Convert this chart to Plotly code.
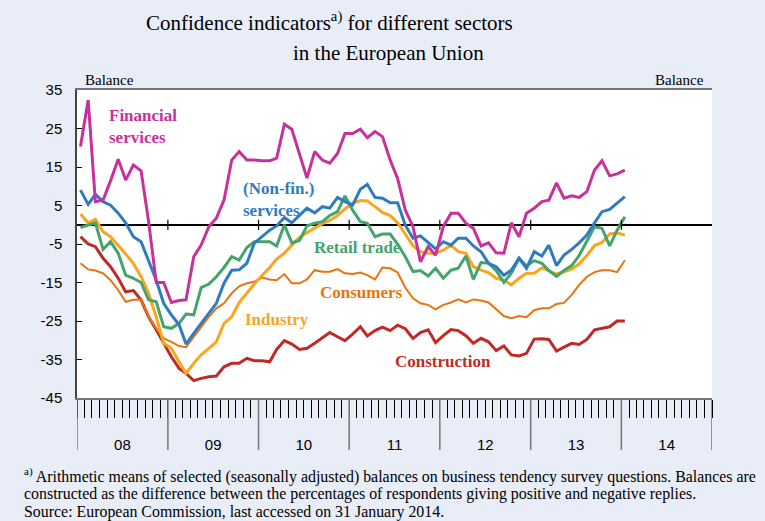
import pandas as pd
import plotly.graph_objects as go

# monthly observations, Jan 2008 - Jan 2014 (balances)
months = pd.date_range("2008-01-01", periods=73, freq="MS") + pd.Timedelta(days=14)

financial = [20.3, 32.4, 6.0, 6.4, 11.4, 17.0, 11.6, 15.5, 14.0, 1.0, -15.0, -15.0,
             -20.2, -19.7, -19.5, -8.3, -5.3, -0.5, 1.7, 6.4, 16.8, 19.0, 16.8, 16.8,
             16.6, 16.6, 17.3, 26.1, 24.8, 18.5, 12.1, 19.0, 16.8, 16.0, 18.5, 23.7,
             23.7, 24.8, 22.6, 24.2, 22.9, 16.8, 12.0, 3.8, -0.5, -9.6, -5.7, -7.9,
             -0.5, 3.0, 3.0, 0.4, -0.9, -5.5, -4.7, -7.3, -7.4, 0.5, -3.1, 3.0,
             4.3, 6.0, 6.4, 10.9, 6.9, 7.5, 7.1, 8.6, 14.2, 16.6, 12.7, 13.2, 14.2]
nonfin = [9.0, 5.3, 7.9, 6.0, 5.1, 3.0, 0.5, -3.1, -4.4, -9.2, -14.4, -20.4,
          -23.4, -26.0, -31.0, -28.2, -25.6, -23.0, -20.4, -15.2, -11.8, -11.7, -10.0, -4.8,
          -3.1, -1.4, -0.3, 1.9, 0.5, 2.3, 4.3, 3.1, 4.7, 4.3, 7.1, 6.0,
          5.1, 9.2, 10.5, 7.1, 6.9, 5.7, 5.7, -0.1, -3.5, -2.9, -4.7, -6.3,
          -4.4, -5.3, -3.5, -3.5, -5.5, -7.0, -10.0, -10.9, -13.1, -11.8, -8.7, -11.3,
          -7.0, -8.1, -5.3, -10.6, -7.9, -6.4, -4.7, -2.7, 0.5, 3.4, 4.0, 5.6, 7.3]
retail = [-0.7, -0.1, 0.5, -6.4, -4.4, -7.4, -13.1, -13.9, -15.0, -19.5, -20.0, -26.5,
          -26.9, -25.6, -23.2, -23.4, -16.3, -15.4, -13.5, -11.1, -8.3, -9.2, -5.9, -4.4,
          -4.4, -4.4, -5.5, 0.0, -4.7, -4.1, -0.3, 0.4, 0.8, 2.4, 3.4, 7.5,
          3.8, 0.8, 0.4, -3.1, -2.4, -2.4, -5.0, -8.3, -12.2, -11.9, -13.3, -11.3,
          -13.9, -11.8, -11.3, -8.1, -14.2, -9.8, -10.0, -11.9, -15.0, -12.6, -8.7, -10.7,
          -9.3, -10.0, -11.9, -13.4, -11.9, -10.6, -8.0, -4.4, -0.5, -0.9, -5.5, -1.4, 2.1]
industry = [2.8, 0.5, 1.4, -1.8, -3.1, -5.3, -7.6, -10.0, -13.5, -17.8, -23.9, -30.8,
            -32.1, -35.6, -38.6, -36.0, -33.8, -32.1, -30.4, -25.6, -23.9, -20.2, -17.6, -15.4,
            -13.2, -11.1, -8.9, -7.4, -5.3, -3.3, -2.0, -0.8, 0.3, 1.1, 2.4, 4.1,
            5.6, 6.3, 6.2, 4.7, 3.2, 2.4, 0.5, -2.4, -5.5, -7.0, -7.4, -7.4,
            -6.6, -5.3, -7.0, -7.4, -10.9, -11.8, -12.4, -13.9, -14.4, -15.6, -13.9, -12.6,
            -12.6, -11.2, -11.9, -12.8, -12.2, -11.5, -10.2, -8.0, -5.4, -4.6, -2.4, -2.1, -2.7]
consumers = [-10.0, -11.6, -11.9, -12.6, -14.4, -17.0, -20.0, -19.5, -19.4, -23.9, -26.9, -29.5,
             -30.4, -31.5, -31.8, -29.1, -26.5, -23.9, -21.7, -20.4, -17.8, -16.0, -15.2, -14.8,
             -13.7, -14.2, -14.4, -12.8, -15.2, -15.2, -14.2, -11.8, -12.2, -12.2, -11.5, -12.6,
             -12.8, -12.4, -13.1, -14.2, -11.1, -11.3, -12.4, -16.3, -19.1, -20.4, -20.8, -22.0,
             -20.8, -20.2, -19.4, -20.2, -19.4, -19.7, -20.2, -22.0, -23.7, -24.3, -23.7, -24.0,
             -22.2, -21.7, -21.7, -20.6, -20.3, -18.2, -15.6, -13.5, -12.3, -11.8, -11.8, -12.3, -9.2]
construction = [-3.1, -5.0, -5.7, -8.7, -10.9, -13.9, -17.4, -17.1, -19.5, -23.9, -27.3, -30.8,
                -34.3, -37.3, -38.6, -40.5, -39.9, -39.5, -39.3, -36.9, -36.0, -36.0, -34.7, -35.3,
                -35.3, -35.6, -32.4, -30.1, -31.0, -32.4, -32.1, -30.8, -29.3, -28.0, -29.1, -30.1,
                -28.4, -26.5, -28.9, -27.5, -26.6, -27.5, -26.1, -27.0, -29.5, -28.0, -27.3, -30.6,
                -28.8, -27.2, -27.5, -28.8, -30.8, -29.5, -30.4, -32.7, -31.5, -33.8, -34.1, -33.4,
                -29.7, -29.6, -29.8, -32.8, -31.8, -30.8, -31.1, -29.8, -27.3, -26.9, -26.5, -25.0, -25.0]

year_starts = pd.date_range("2008-01-01", "2015-01-01", freq="YS")
y_ticks = list(range(-45, 36, 10))
y_ticktext = [str(v) for v in y_ticks]  # plain hyphen, as in the original

footnote = [
    "<sup>a)</sup> Arithmetic means of selected (seasonally adjusted) balances on business tendency survey questions. Balances are",
    "constructed as the difference between the percentages of respondents giving positive and negative replies.",
    "Source: European Commission, last accessed on 31 January 2014.",
]

serif = "Liberation Serif"
sans = "Liberation Sans"
bg = "#E8EDF8"

fig = go.Figure()

# (name, values, colour, width, label text, label x/y in paper coords)
series = [
    ("Construction", construction, "#BE2B26", 3, "Construction", 0.498, 0.117),
    ("Consumers", consumers, "#E8740F", 2, "Consumers", 0.379, 0.341),
    ("Industry", industry, "#F9A51E", 3, "Industry", 0.261, 0.256),
    ("Retail trade", retail, "#45A36C", 3, "Retail trade", 0.370, 0.490),
    ("(Non-fin.) services", nonfin, "#2F7BC0", 3, "(Non-fin.)<br>services", 0.258, 0.643),
    ("Financial services", financial, "#C8319C", 3, "Financial<br>services", 0.048, 0.883),
]

for name, vals, col, w, label, lx, ly in series:
    fig.add_trace(go.Scatter(x=months, y=vals, mode="lines", name=name,
                             line=dict(color=col, width=w), showlegend=False))
    fig.add_annotation(text="<b>" + label + "</b>", xref="paper", yref="paper",
                       x=lx, y=ly, xanchor="left", yanchor="middle", align="left",
                       showarrow=False, font=dict(family=serif, size=17, color=col))

# year separators below the plot and small ticks on the zero line
for d in year_starts:
    fig.add_shape(type="line", xref="x", yref="paper", x0=d, x1=d, y0=0, y1=-0.169,
                  line=dict(color="#777777", width=1.5))
for d in year_starts[1:-1]:
    fig.add_shape(type="line", xref="x", yref="y", x0=d, x1=d, y0=-1.3, y1=1.3,
                  line=dict(color="black", width=1.2))

# title, two lines
fig.add_annotation(text="Confidence indicators<sup>a)</sup> for different sectors",
                   xref="paper", yref="paper", x=0.398, y=1.221, xanchor="center", yanchor="middle",
                   showarrow=False, font=dict(family=serif, size=21, color="black"))
fig.add_annotation(text="in the European Union",
                   xref="paper", yref="paper", x=0.491, y=1.12, xanchor="center", yanchor="middle",
                   showarrow=False, font=dict(family=serif, size=21, color="black"))

fig.add_annotation(text="Balance", xref="paper", yref="paper", x=0.01, y=1.0,
                   xanchor="left", yanchor="bottom", showarrow=False,
                   font=dict(family=serif, size=15, color="black"))
fig.add_annotation(text="Balance", xref="paper", yref="paper", x=0.99, y=1.0,
                   xanchor="right", yanchor="bottom", showarrow=False,
                   font=dict(family=serif, size=15, color="black"))

# footnote lines
for k, line in enumerate(footnote):
    fig.add_annotation(text=line, xref="paper", yref="paper", x=-0.087, y=-0.2532 - 0.0585 * k,
                       xanchor="left", yanchor="middle", align="left", showarrow=False,
                       font=dict(family=serif, size=15.9, color="black"))

yax = dict(range=[-45, 35], tickvals=y_ticks, ticktext=y_ticktext, ticks="inside", ticklen=5,
           tickcolor="black", showgrid=False, showline=True, linecolor="#444444", linewidth=1.5,
           tickfont=dict(family=sans, size=15, color="black"), ticklabelstandoff=10)

fig.update_layout(
    width=765, height=521,
    margin=dict(l=77, r=53, t=90, b=123),
    paper_bgcolor=bg, plot_bgcolor="white",
    xaxis=dict(range=["2008-01-01", "2015-01-01"], dtick="M12", tick0="2008-01-01",
               tickformat="%y", ticklabelmode="period", ticks="outside", ticklen=18,
               tickcolor="black", showgrid=False, showline=True, linecolor="#777777",
               linewidth=1.5, mirror=True, ticklabelstandoff=14,
               tickfont=dict(family=sans, size=15, color="black"),
               minor=dict(dtick="M1", ticks="outside", ticklen=18, tickcolor="black", showgrid=False)),
    yaxis=dict(**yax, zeroline=True, zerolinecolor="black", zerolinewidth=1.5),
    yaxis2=dict(**yax, overlaying="y", side="right", zeroline=False),
)

# the page body has a default 8px margin; drop it so the figure fills the window
fig.write_html("out.html", config={"displayModeBar": False},
               post_script="document.body.style.margin='0';")
